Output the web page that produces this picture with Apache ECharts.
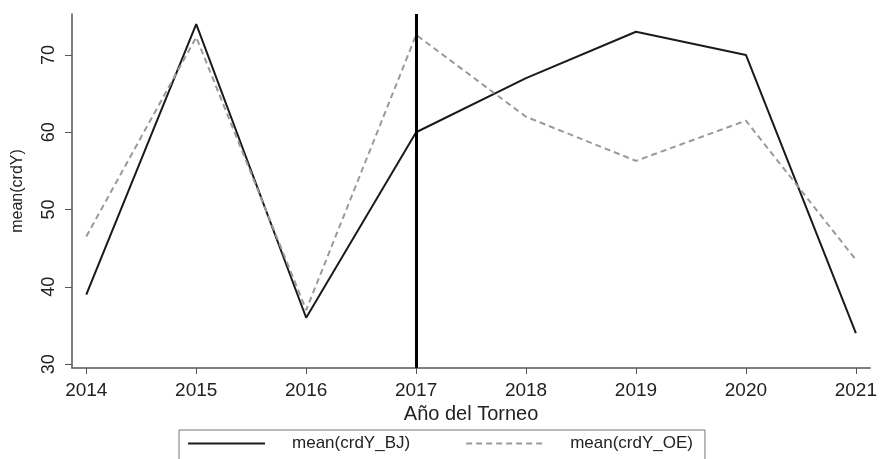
<!DOCTYPE html>
<html>
<head>
<meta charset="utf-8">
<script src="https://cdn.jsdelivr.net/npm/echarts@6/dist/echarts.min.js"></script>
<style>html,body{margin:0;padding:0;background:#fff}#c{width:880px;height:459px}</style>
</head>
<body>
<div id="c"></div>
<script>
const years = [2014, 2015, 2016, 2017, 2018, 2019, 2020, 2021];
const crdY_BJ = [39, 74, 36, 60, 67, 73, 70, 34];
const crdY_OE = [46.5, 72.3, 37, 72.6, 62, 56.3, 61.5, 43.5];
const yTicks = [30, 40, 50, 60, 70];
const refYear = 2017;

const font = 'Liberation Sans, Arial, Helvetica, sans-serif';
const chart = echarts.init(document.getElementById('c'));
chart.setOption({
  animation: false,
  grid: { left: 72, right: 9, top: 14, bottom: 91 },
  xAxis: {
    type: 'value', min: 2013.87, max: 2021.13,
    name: 'Año del Torneo', nameLocation: 'middle', nameGap: 32,
    nameTextStyle: { color: '#222', fontSize: 20, fontFamily: font },
    axisLine: { show: true, onZero: false, lineStyle: { color: '#555', width: 1.5 } },
    axisTick: { show: true, customValues: years, length: 6, lineStyle: { color: '#555' } },
    axisLabel: { customValues: years, color: '#222', fontSize: 19, fontFamily: font, margin: 13, formatter: v => String(v) },
    splitLine: { show: false }
  },
  yAxis: {
    type: 'value', min: 29.5, max: 75.3,
    name: 'mean(crdY)', nameLocation: 'middle', nameGap: 46, nameRotate: 90,
    nameTextStyle: { color: '#222', fontSize: 16, fontFamily: font },
    axisLine: { show: true, lineStyle: { color: '#555', width: 1.5 } },
    axisTick: { show: true, customValues: yTicks, length: 7, lineStyle: { color: '#555' } },
    axisLabel: { customValues: yTicks, rotate: 90, color: '#222', fontSize: 18, fontFamily: font, margin: 14 },
    splitLine: { show: false }
  },
  legend: {
    top: 430, left: 'center',
    borderColor: '#777', borderWidth: 1,
    padding: [5, 12, 14, 8],
    itemWidth: 77, itemHeight: 14, itemGap: 55,
    itemStyle: { opacity: 0 },
    textStyle: { color: '#222', fontSize: 17, fontFamily: font, padding: [0, 0, 0, 22] },
    data: ['mean(crdY_BJ)', 'mean(crdY_OE)']
  },
  series: [
    {
      name: 'mean(crdY_BJ)', type: 'line', symbol: 'none',
      data: years.map((y, i) => [y, crdY_BJ[i]]),
      lineStyle: { color: '#1a1a1a', width: 2 },
      itemStyle: { color: '#1a1a1a' },
      markLine: {
        silent: true, symbol: 'none', label: { show: false },
        lineStyle: { color: '#000', width: 3, type: 'solid' },
        data: [{ xAxis: refYear }]
      }
    },
    {
      name: 'mean(crdY_OE)', type: 'line', symbol: 'none',
      data: years.map((y, i) => [y, crdY_OE[i]]),
      lineStyle: { color: '#9a9a9a', width: 2, type: [6, 4] },
      itemStyle: { color: '#9a9a9a' }
    }
  ]
});
</script>
</body>
</html>
